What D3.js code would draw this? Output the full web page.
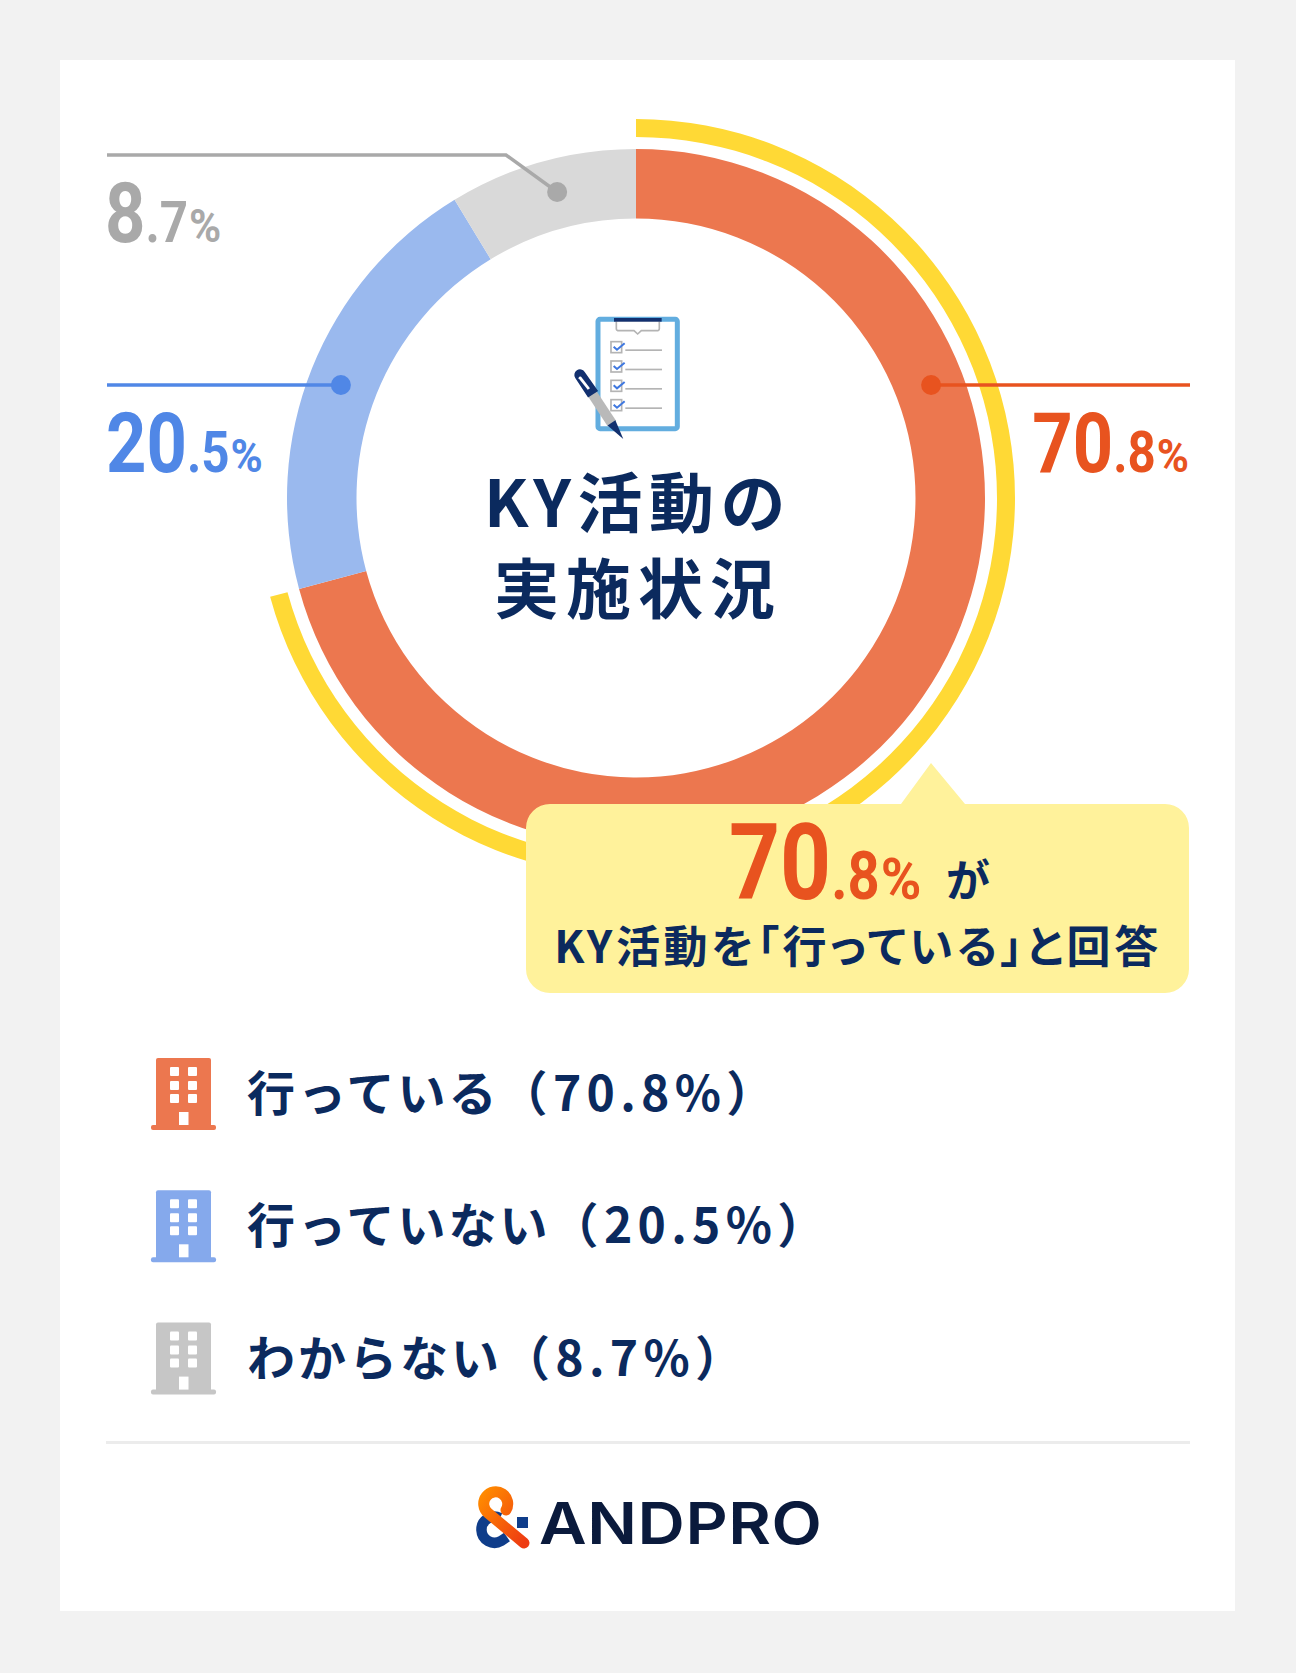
<!DOCTYPE html>
<html lang="ja">
<head>
<meta charset="utf-8">
<script src="https://cdn.jsdelivr.net/npm/d3@7"></script>
<style>
html,body{margin:0;padding:0;background:#f2f2f2}
svg{display:block}
.jp{font-family:"Noto Sans CJK JP","Noto Sans",sans-serif;font-weight:700}
.num{font-family:Roboto,"Liberation Sans",sans-serif;font-weight:700}
</style>
</head>
<body>
<svg id="chart" width="1296" height="1673" viewBox="0 0 1296 1673"></svg>
<script>
// Survey results
const categories = ["行っている", "行っていない", "わからない"];
const values = [70.8, 20.5, 8.7];
const ringColors = ["#ec774f", "#9ab9ee", "#d9d9d9"];
const accentColors = ["#e8531f", "#5087e6", "#a9a9a9"];
const chartTitle = ["KY活動の", "実施状況"];
const calloutLine = "KY活動を「行っている」と回答";
const brandName = "ANDPRO";

const NAVY = "#0b2a5e";
const svg = d3.select("#chart");
const cx = 636, cy = 498, rOuter = 349, rInner = 279.5;
const dotRadius = 316;

// Page and card
svg.append("rect").attr("width", 1296).attr("height", 1673).attr("fill", "#f2f2f2");
svg.append("rect").attr("x", 60).attr("y", 60).attr("width", 1175).attr("height", 1551).attr("fill", "#fff");

// Donut ring
const pie = d3.pie().sort(null).value(d => d);
const arcs = pie(values);
const ring = d3.arc().innerRadius(rInner).outerRadius(rOuter);
const root = svg.append("g").attr("transform", `translate(${cx},${cy})`);
root.selectAll("path.slice").data(arcs).join("path")
  .attr("class", "slice").attr("d", ring).attr("fill", (d, i) => ringColors[i]);

// Yellow highlight arc spanning the leading slice
root.append("path")
  .attr("d", d3.arc().innerRadius(361).outerRadius(379)(arcs[0]))
  .attr("fill", "#ffd935");

// Leader lines with a dot sitting on the ring
function ringX(y, side) {
  const dy = y - cy;
  return cx + side * Math.sqrt(dotRadius * dotRadius - dy * dy);
}
const leaderLayout = [
  { i: 0, side: 1, dotY: 385, path: dot => [[dot, 385], [1190, 385]] },
  { i: 1, side: -1, dotY: 385, path: dot => [[107, 385], [dot, 385]] },
  { i: 2, side: -1, dotY: 192, path: dot => [[107, 155], [506, 155], [dot, 192]] }
];
const lineGen = d3.line();
leaderLayout.forEach(l => {
  const dot = ringX(l.dotY, l.side);
  svg.append("path").attr("d", lineGen(l.path(dot))).attr("fill", "none")
    .attr("stroke", accentColors[l.i]).attr("stroke-width", 3.5);
  svg.append("circle").attr("cx", dot).attr("cy", l.dotY).attr("r", 10).attr("fill", accentColors[l.i]);
});

// Percentage with large integer part and smaller decimal and % sign,
// each part condensed on its own and laid out from its measured width
function bigPercent(parent, x, y, value, anchor, s1, s2, s3, color) {
  const [whole, dec] = value.toFixed(1).split(".");
  const g = parent.append("g");
  const parts = [
    { text: whole, size: s1, sx: 0.84, gap: 0 },
    { text: "." + dec, size: s2, sx: 0.85, gap: 0 },
    { text: "%", size: s3, sx: 0.95, gap: s3 * 0.02 }
  ];
  let at = 0;
  parts.forEach(p => {
    at += p.gap;
    const t = g.append("text").attr("class", "num")
      .attr("transform", `translate(${at},0) scale(${p.sx},1)`)
      .attr("font-size", p.size).attr("fill", color).text(p.text);
    at += t.node().getComputedTextLength() * p.sx;
  });
  g.attr("transform", `translate(${anchor === "end" ? x - at : x},${y})`);
}
bigPercent(svg, 1189, 472, values[0], "end", 84, 58, 46, accentColors[0]);
bigPercent(svg, 106, 472, values[1], "start", 84, 58, 46, accentColors[1]);
bigPercent(svg, 105, 242, values[2], "start", 84, 58, 46, accentColors[2]);

// Clipboard and pen illustration
const clip = svg.append("g").attr("transform", "translate(520,290) scale(0.3333)");
clip.append("rect").attr("x", 234).attr("y", 88).attr("width", 238).attr("height", 328)
  .attr("rx", 6).attr("fill", "#fff").attr("stroke", "#62addf").attr("stroke-width", 15);
clip.append("path").attr("d", "M289 92H418V116Q418 122 410 122H364L353 132L342 122H297Q289 122 289 116Z")
  .attr("fill", "#fff").attr("stroke", "#b4b4b4").attr("stroke-width", 5);
clip.append("rect").attr("x", 282).attr("y", 84).attr("width", 143).attr("height", 11).attr("fill", "#12306f");
d3.range(4).forEach(k => {
  const y = 155 + k * 58;
  clip.append("rect").attr("x", 273).attr("y", y).attr("width", 32).attr("height", 33)
    .attr("fill", "#fff").attr("stroke", "#b4b4b4").attr("stroke-width", 5);
  clip.append("path").attr("d", `M281 ${y + 15}L291 ${y + 24}L314 ${y + 5}`)
    .attr("fill", "none").attr("stroke", "#3f78e0").attr("stroke-width", 6);
  clip.append("rect").attr("x", 316).attr("y", y + 23).attr("width", 110).attr("height", 5).attr("fill", "#b4b4b4");
});
const pen = clip.append("g").attr("transform", "translate(180,255) rotate(-33.3)");
pen.append("rect").attr("x", -15).attr("y", 50).attr("width", 30).attr("height", 125).attr("fill", "#b9b9b9");
pen.append("path").attr("d", "M-17 0A17 17 0 0 1 17 0L19 70H-17Z").attr("fill", "#12306f");
pen.append("path").attr("d", "M-9 6A5 5 0 0 1 0 6L3 50H-5Z").attr("fill", "#fff");
pen.append("path").attr("d", "M-14 172H14L3 232Z").attr("fill", "#12306f");

// Centre title
svg.selectAll("text.title").data(chartTitle).join("text")
  .attr("class", "title jp").attr("x", cx + 2).attr("y", (d, i) => 527 + i * 86)
  .attr("text-anchor", "middle").attr("font-size", 65).attr("letter-spacing", (d, i) => i ? 7 : 6.5)
  .attr("fill", NAVY).text(d => d);

// Callout bubble
svg.append("path")
  .attr("d", "M550 804H901L931 763L965 804H1165A24 24 0 0 1 1189 828V969A24 24 0 0 1 1165 993H550A24 24 0 0 1 526 969V828A24 24 0 0 1 550 804Z")
  .attr("fill", "#fff29b");
bigPercent(svg, 729, 899, values[0], "start", 106, 66, 58, accentColors[0]);
svg.append("text").attr("class", "jp").attr("x", 946).attr("y", 897).attr("font-size", 44).attr("fill", NAVY).text("が");
svg.append("text").attr("class", "jp").attr("x", 858).attr("y", 963).attr("text-anchor", "middle")
  .attr("font-size", 44).attr("letter-spacing", 3.6).style("font-feature-settings", '"palt"')
  .attr("fill", NAVY).text(calloutLine);

// Legend rows with a building icon
const legendIconColors = ["#ec774f", "#85a9ec", "#c6c6c6"];
const rowStep = 132.3;
const legend = svg.selectAll("g.row").data(categories).join("g")
  .attr("class", "row").attr("transform", (d, i) => `translate(0,${i * rowStep})`);
legend.each(function (d, i) {
  const g = d3.select(this), c = legendIconColors[i];
  g.append("rect").attr("x", 156).attr("y", 1058).attr("width", 55).attr("height", 70).attr("rx", 2).attr("fill", c);
  g.append("rect").attr("x", 151).attr("y", 1125).attr("width", 65).attr("height", 5).attr("rx", 2).attr("fill", c);
  [1067, 1081, 1094].forEach(wy => [170, 188].forEach(wx => {
    g.append("rect").attr("x", wx).attr("y", wy).attr("width", 9).attr("height", 9).attr("rx", 1).attr("fill", "#fff");
  }));
  g.append("rect").attr("x", 179).attr("y", 1112).attr("width", 9.5).attr("height", 13).attr("fill", "#fff");
  const t = g.append("text").attr("class", "jp").attr("x", 247).attr("y", 1111)
    .attr("font-size", 48).attr("fill", NAVY);
  t.append("tspan").attr("letter-spacing", 3).text(d);
  t.append("tspan").attr("letter-spacing", 5.3).text(`（${values[i].toFixed(1)}%）`);
});

// Divider
svg.append("rect").attr("x", 106).attr("y", 1441).attr("width", 1084).attr("height", 3).attr("fill", "#ececec");

// Brand mark and wordmark
const defs = svg.append("defs");
const grad = defs.append("linearGradient").attr("id", "brandGrad").attr("x1", 0).attr("y1", 0).attr("x2", 1).attr("y2", 1);
grad.append("stop").attr("offset", 0).attr("stop-color", "#ff8a00");
grad.append("stop").attr("offset", 1).attr("stop-color", "#ee3b12");
const mark = svg.append("g");
mark.append("path").attr("d", "M500 1518A13 13 0 1 0 501 1541L507 1537")
  .attr("fill", "none").attr("stroke", "#0f3d8a").attr("stroke-width", 10.5);
mark.append("rect").attr("x", 517).attr("y", 1517).attr("width", 11).attr("height", 11).attr("fill", "#0f3d8a");
mark.append("path").attr("d", "M524 1543L488 1513A12 12 0 1 1 506 1510")
  .attr("fill", "none").attr("stroke", "url(#brandGrad)").attr("stroke-width", 11).attr("stroke-linecap", "round");
svg.append("text").attr("transform", "translate(539,1544) scale(1.13,1)").attr("font-family", "Inter, Roboto, sans-serif")
  .attr("font-weight", 600).attr("font-size", 58).attr("letter-spacing", 0.5).attr("fill", "#0a1a3c").text(brandName);
</script>
</body>
</html>
